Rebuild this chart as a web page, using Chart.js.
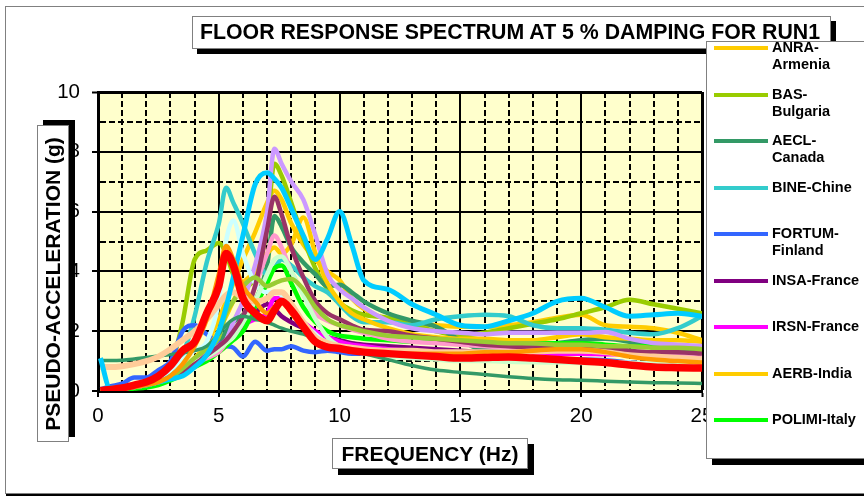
<!DOCTYPE html>
<html>
<head>
<meta charset="utf-8">
<script src="https://cdn.jsdelivr.net/npm/chart.js@4"></script>
<style>
  body { margin: 0; background: #fff; }
  #wrap { position: relative; width: 864px; height: 497px; overflow: hidden; font-family: Arial, "Liberation Sans", sans-serif; }
  #frame { position: absolute; left: 5px; top: 6px; width: 900px; height: 488px; border: 1px solid #808080; box-shadow: 1px 2px 0 #000; box-sizing: border-box; }
  #c { position: absolute; left: 0; top: 0; }
  .box { position: absolute; background: #fff; border: 1px solid #808080; box-sizing: border-box; font-weight: bold; color: #000; white-space: nowrap; }
  #title { left: 192px; top: 16px; width: 639px; height: 33px; box-shadow: 5px 5px 0 #000; font-size: 21.3px; line-height: 31px; padding-left: 7px; }
  #ytitle { left: 37px; top: 125px; width: 32px; height: 317px; box-shadow: 6px -5px 0 #000; font-size: 21px; }
  #ytitle span { position: absolute; left: 50%; top: 50%; transform: translate(-50%, -50%) rotate(-90deg); }
  #xtitle { left: 332px; top: 438px; width: 196px; height: 31px; box-shadow: 6px 6px 0 #000; font-size: 21px; line-height: 29px; text-align: center; }
  #legend { left: 706px; top: 41px; width: 180px; height: 418px; box-shadow: 6px 6px 0 #000; overflow: hidden; }
  .lg-line { position: absolute; left: 7px; width: 54px; height: 4px; }
  .lg-text { position: absolute; left: 65px; width: 92px; font-size: 14.5px; line-height: 17px; white-space: normal; }
</style>
</head>
<body>
<div id="wrap">
  <div id="frame"></div>
  <canvas id="c" width="864" height="497"></canvas>
  <div class="box" id="title">FLOOR RESPONSE SPECTRUM AT 5 % DAMPING FOR RUN1</div>
  <div class="box" id="ytitle"><span>PSEUDO-ACCELERATION (g)</span></div>
  <div class="box" id="xtitle">FREQUENCY (Hz)</div>
  <div class="box" id="legend"></div>
</div>
<script>
// frequencies (Hz) shared by all curves
const freq = [0.1, 0.5, 1, 1.5, 2, 2.5, 3, 3.5, 4, 4.5, 5, 5.3, 5.6, 6, 6.5, 7, 7.3, 7.6, 8, 8.5,
  9, 9.5, 10, 10.5, 11, 12, 13, 14, 15, 16, 17, 18, 19, 20, 21, 22, 23, 24, 25];

// pseudo-acceleration (g)
const anra = [0.02,0.04,0.08,0.13,0.2,0.3,0.45,0.75,1.1,1.6,2.4,3.0,3.6,4.4,5.3,6.3,6.7,6.4,5.6,4.9,
  4.4,4.0,3.7,3.1,2.75,2.4,2.25,2.2,2.15,2.15,2.2,2.3,2.45,2.55,2.2,2.15,2.1,1.95,1.7];
const bas = [0.02,0.04,0.08,0.15,0.25,0.4,0.8,2.3,4.4,4.7,4.95,4.6,3.9,3.5,3.8,5.5,7.6,7.2,6.3,5.1,
  4.1,3.4,2.95,2.7,2.55,2.45,2.2,2.0,1.85,1.95,2.1,2.25,2.4,2.6,2.8,3.05,2.9,2.75,2.6];
const aecl = [0.02,0.04,0.08,0.15,0.25,0.4,0.6,0.8,0.9,1.05,1.55,2.0,2.3,2.55,3.0,4.2,5.85,5.5,4.8,4.3,
  3.9,3.5,3.55,3.3,3.0,2.6,2.35,2.15,1.7,1.37,1.4,1.5,1.6,1.7,1.75,1.65,1.45,1.35,1.3];
const bine = [0.02,0.04,0.08,0.15,0.25,0.4,0.6,1.2,2.5,4.3,5.6,6.8,6.3,5.6,4.6,3.9,4.1,4.4,4.2,3.8,
  3.5,3.3,2.9,2.5,2.3,2.3,2.2,2.4,2.5,2.55,2.5,2.2,2.1,2.1,2.05,1.95,1.9,2.1,2.5];
const fortum = [0.05,0.15,0.25,0.45,0.45,0.7,1.0,2.0,2.2,1.9,1.6,1.5,1.45,1.15,1.65,1.35,1.4,1.4,1.5,1.35,
  1.3,1.35,1.3,1.25,1.25,1.2,1.15,1.1,1.1,1.1,1.1,1.05,1.05,1.05,1.03,0.95,0.9,0.85,0.8];
const insa = [0.02,0.04,0.08,0.13,0.2,0.3,0.45,0.65,0.9,1.1,1.4,1.6,1.8,2.1,2.6,2.9,2.75,2.5,2.3,2.1,
  1.95,1.8,1.7,1.6,1.55,1.5,1.45,1.4,1.35,1.3,1.3,1.3,1.3,1.3,1.3,1.25,1.2,1.15,1.1];
const irsn = [0.02,0.04,0.08,0.13,0.2,0.3,0.45,0.65,0.9,1.15,1.5,1.7,1.9,2.2,2.4,2.6,3.1,3.1,2.6,2.3,
  2.0,1.8,1.65,1.55,1.5,1.4,1.35,1.3,1.3,1.3,1.28,1.26,1.25,1.25,1.23,1.22,1.2,1.2,1.2];
const aerb = [0.02,0.04,0.08,0.13,0.2,0.3,0.45,0.7,1.0,1.4,2.0,2.5,3.0,3.6,4.0,4.6,4.8,4.6,4.9,5.8,
  4.6,3.6,3.0,2.6,2.4,2.1,1.9,1.8,1.75,1.75,1.7,1.7,1.8,1.9,1.8,1.75,1.7,1.7,1.65];
const polimi = [0.01,0.02,0.04,0.08,0.12,0.2,0.35,0.55,0.8,1.0,1.3,1.5,1.7,2.0,2.8,3.6,4.1,4.2,3.6,2.8,
  2.3,2.0,1.85,1.8,1.75,1.7,1.65,1.65,1.6,1.6,1.6,1.6,1.6,1.6,1.55,1.5,1.5,1.45,1.45];
// curves whose legend entries fall outside the legend box
const lavender = [0.02,0.04,0.08,0.13,0.2,0.3,0.45,0.75,1.05,1.3,1.5,1.7,2.3,3.0,4.2,6.0,8.1,7.6,7.0,6.4,
  5.2,3.9,3.4,3.1,2.8,2.35,2.1,2.0,1.95,1.9,1.95,1.95,1.95,1.95,1.97,1.75,1.6,1.55,1.5];
const lightCyan = [0.02,0.04,0.08,0.15,0.25,0.45,0.7,1.05,1.35,1.65,3.0,5.0,5.7,4.6,3.6,3.3,3.3,3.2,2.8,2.3,
  1.9,1.6,1.5,1.4,1.35,1.25,1.2,1.15,1.1,1.1,1.1,1.05,1.05,1.0,0.98,0.95,0.93,0.92,0.9];
const skyBlue = [1.1,0.1,0.1,0.15,0.2,0.3,0.4,0.5,0.8,1.2,2.0,2.8,3.8,5.2,6.9,7.3,7.1,6.8,6.1,5.2,
  4.4,5.1,6.0,4.9,3.7,3.4,2.9,2.55,2.2,2.15,2.35,2.6,3.0,3.1,2.8,2.5,2.55,2.6,2.5];
const pink = [0.02,0.04,0.08,0.13,0.2,0.3,0.45,0.7,0.95,1.1,1.3,1.6,1.9,2.5,3.5,4.6,5.2,4.8,4.0,3.3,
  2.6,2.35,2.2,2.05,1.95,1.75,1.65,1.6,1.55,1.5,1.45,1.45,1.45,1.47,1.4,1.3,1.25,1.2,1.15];
const lightGreen = [0.02,0.04,0.08,0.13,0.2,0.3,0.45,0.7,0.95,1.15,1.4,1.6,1.8,2.3,3.0,3.9,4.4,4.5,4.0,3.2,
  2.4,1.8,1.5,1.35,1.25,1.15,1.1,1.05,1.0,1.0,0.98,0.96,0.95,0.94,0.93,0.92,0.91,0.9,0.9];
const tan = [0.8,0.8,0.83,0.9,1.0,1.15,1.4,1.7,2.0,2.4,2.9,3.2,3.3,3.1,3.0,3.1,3.3,3.3,2.9,2.3,
  1.8,1.6,1.5,1.45,1.4,1.35,1.35,1.3,1.3,1.3,1.3,1.32,1.35,1.35,1.3,1.2,1.15,1.1,1.05];
const plum = [0.02,0.04,0.08,0.13,0.2,0.3,0.45,0.65,0.9,1.2,1.5,1.7,2.0,2.5,3.5,5.4,6.5,5.9,4.8,3.8,
  3.0,2.6,2.4,2.2,2.05,2.0,1.85,1.75,1.65,1.55,1.5,1.45,1.45,1.45,1.45,1.35,1.3,1.3,1.25];
const olive = [0.02,0.04,0.08,0.13,0.2,0.3,0.45,0.75,1.1,1.4,1.8,2.6,3.0,3.5,3.8,3.5,3.6,3.7,3.75,3.4,
  2.8,2.4,2.2,2.1,2.0,1.85,1.8,1.75,1.7,1.65,1.6,1.6,1.55,1.55,1.5,1.5,1.45,1.45,1.4];
const seaLow = [1.02,1.02,1.03,1.07,1.12,1.17,1.22,1.27,1.35,1.5,1.9,2.2,2.4,2.5,2.4,2.3,2.2,2.1,2.0,1.9,
  1.75,1.6,1.45,1.35,1.25,1.05,0.85,0.7,0.62,0.55,0.48,0.42,0.38,0.36,0.33,0.3,0.28,0.27,0.25];
const orange = [0.02,0.04,0.08,0.13,0.2,0.3,0.5,0.9,1.5,2.4,3.9,4.85,4.4,3.5,3.0,2.6,2.8,3.0,2.6,2.1,
  1.7,1.5,1.4,1.35,1.3,1.25,1.25,1.25,1.25,1.3,1.3,1.35,1.4,1.4,1.3,1.15,1.05,1.0,0.95];
const red = [0.02,0.05,0.1,0.2,0.3,0.5,0.85,1.35,1.65,2.6,3.5,4.6,4.2,3.1,2.6,2.35,2.7,3.0,2.7,2.15,
  1.64,1.47,1.42,1.35,1.3,1.25,1.2,1.15,1.1,1.12,1.14,1.1,1.05,1.0,0.95,0.87,0.8,0.78,0.77];

const yTicks = [0, 2, 4, 6, 8, 10];
const xTicks = [0, 5, 10, 15, 20, 25];

// label, values, colour, width
const series = [
  ['ANRA-Armenia', anra, '#FFCC00'],
  ['BAS-Bulgaria', bas, '#99CC00'],
  ['AECL-Canada', aecl, '#339966'],
  ['BINE-Chine', bine, '#33CCCC'],
  ['FORTUM-Finland', fortum, '#3366FF'],
  ['INSA-France', insa, '#800080'],
  ['IRSN-France', irsn, '#FF00FF'],
  ['AERB-India', aerb, '#FFCC00'],
  ['POLIMI-Italy', polimi, '#00FF00'],
  ['', lavender, '#CC99FF'],
  ['', lightCyan, '#CCFFFF'],
  ['', pink, '#FF99CC'],
  ['', lightGreen, '#CCFFCC'],
  ['', plum, '#993366'],
  ['', olive, '#99CC33'],
  ['', seaLow, '#339966', 3.5],
  ['', tan, '#FFCC99', 6],
  ['', skyBlue, '#00CCFF', 5],
  ['', orange, '#FF9900'],
  ['', red, '#FF0000', 7.5]
];
const shownInLegend = 9;

const plotBg = {
  id: 'plotBg',
  beforeDraw(chart) {
    const { ctx, chartArea: a } = chart;
    ctx.save();
    ctx.fillStyle = '#FFFFCC';
    ctx.fillRect(a.left, a.top, a.right - a.left, a.bottom - a.top);
    ctx.restore();
  }
};

const tickFont = { family: 'Arial, "Liberation Sans", sans-serif', size: 20.5 };

new Chart(document.getElementById('c'), {
  type: 'line',
  data: {
    datasets: series.map((s, i) => ({
      label: s[0],
      data: freq.map((f, j) => ({ x: f, y: s[1][j] })),
      borderColor: s[2],
      borderWidth: s[3] || 4.5,
      pointRadius: 0,
      cubicInterpolationMode: 'monotone',
      fill: false,
      order: 100 - i
    }))
  },
  options: {
    responsive: false,
    animation: false,
    events: [],
    layout: { padding: { left: 0, top: 92, right: 162, bottom: 0 } },
    plugins: { legend: { display: false }, tooltip: { enabled: false } },
    scales: {
      x: {
        type: 'linear', min: 0, max: 25,
        afterFit: s => { s.height = 106; },
        ticks: {
          stepSize: 1, autoSkip: false, maxRotation: 0, color: '#000', font: tickFont, padding: 7,
          callback: v => xTicks.includes(v) ? v : ''
        },
        grid: {
          color: '#000',
          lineWidth: c => (c.tick && c.tick.value === 25) ? 3 : 2,
          tickLength: 6, tickWidth: 2,
          tickColor: c => (c.tick && xTicks.includes(c.tick.value)) ? '#000' : 'rgba(0,0,0,0)'
        },
        border: { display: true, color: '#000', width: 3, dash: c => (c.tick && c.tick.value % 5 !== 0) ? [6, 3] : [] }
      },
      y: {
        min: 0, max: 10,
        afterFit: s => { s.width = 98; },
        ticks: {
          stepSize: 1, autoSkip: false, color: '#000', font: tickFont, padding: 12,
          callback: v => yTicks.includes(v) ? v : ''
        },
        grid: {
          color: '#000',
          lineWidth: c => (c.tick && c.tick.value === 10) ? 3 : 2,
          tickLength: 6, tickWidth: 2,
          tickColor: c => (c.tick && yTicks.includes(c.tick.value)) ? '#000' : 'rgba(0,0,0,0)'
        },
        border: { display: true, color: '#000', width: 3, dash: c => (c.tick && c.tick.value % 2 !== 0) ? [6, 3] : [] }
      }
    }
  },
  plugins: [plotBg]
});

// legend box (only the entries that fit in the original box)
const legend = document.getElementById('legend');
series.slice(0, shownInLegend).forEach((s, i) => {
  const cy = 47 + 46.5 * i - 41;
  const line = document.createElement('div');
  line.className = 'lg-line';
  line.style.top = (cy - 2) + 'px';
  line.style.background = s[2];
  const txt = document.createElement('div');
  txt.className = 'lg-text';
  txt.style.top = (cy - 9) + 'px';
  txt.textContent = s[0];
  legend.appendChild(line);
  legend.appendChild(txt);
});
</script>
</body>
</html>
